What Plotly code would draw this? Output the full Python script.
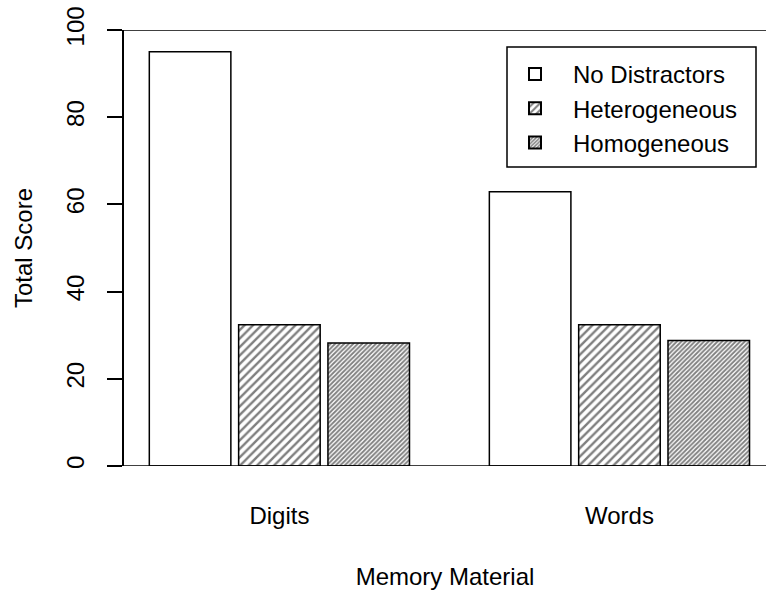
import plotly.graph_objects as go

materials = ['Digits', 'Words']
conditions = ['No Distractors', 'Heterogeneous', 'Homogeneous']
no_distractors = [95.0, 62.9]
heterogeneous = [32.4, 32.4]
homogeneous = [28.2, 28.8]
y_ticks = [0, 20, 40, 60, 80, 100]

FONT = 'Liberation Sans, Arial, Helvetica, sans-serif'
W, H = 766, 595
L, R, T, B = 124, 0, 30, 129
plot_w = W - L - R
plot_h = H - T - B

# fill patterns: none / sparse hatch / dense hatch
patterns = [dict(shape=''),
            dict(shape='/', size=6, solidity=0.4, fgcolor='black', bgcolor='white'),
            dict(shape='/', size=3.2, solidity=0.58, fgcolor='black', bgcolor='white')]

fig = go.Figure()
for name, vals, pat in zip(conditions, [no_distractors, heterogeneous, homogeneous], patterns):
    fig.add_bar(x=materials, y=vals, name=name,
                marker=dict(color='white', line=dict(color='black', width=1.5), pattern=pat))

# horizontal rules at 0 and 100 (run out to the right edge)
for yv in (0, 100):
    fig.add_shape(type='line', xref='paper', yref='y', x0=-15 / plot_w, x1=1.0,
                  y0=yv, y1=yv, line=dict(color='black', width=1.5))

# legend frame drawn by hand so it can be wider than plotly's own box
fig.add_shape(type='rect', xref='paper', yref='paper',
              x0=(507 - L) / plot_w, x1=(756 - L) / plot_w,
              y0=1 - (167 - T) / plot_h, y1=1 - (47 - T) / plot_h,
              line=dict(color='black', width=1.5), fillcolor='rgba(0,0,0,0)')

fig.update_layout(
    width=W, height=H,
    margin=dict(l=L, r=R, t=T, b=B),
    plot_bgcolor='white', paper_bgcolor='white',
    font=dict(family=FONT, size=24, color='black'),
    barmode='group', bargap=0.212, bargroupgap=0.087,
    showlegend=True,
    legend=dict(x=(497 - L) / plot_w, y=1 - (52 - T) / plot_h, xanchor='left', yanchor='top',
                bgcolor='rgba(0,0,0,0)', borderwidth=0, font=dict(size=24),
                itemwidth=66, itemsizing='constant'),
)
fig.update_xaxes(range=[-0.457, 1.431], showline=False, ticks='', showgrid=False,
                 zeroline=False, ticklabelstandoff=33,
                 title=dict(text='Memory Material', standoff=40, font=dict(size=24)))
fig.update_yaxes(range=[0, 100], tickvals=y_ticks, showline=True, linecolor='black', linewidth=1.5,
                 ticks='outside', ticklen=15, tickwidth=1.5, tickcolor='black',
                 tickangle=-90, showgrid=False, zeroline=False, ticklabelstandoff=14,
                 title=dict(text='Total Score', standoff=22, font=dict(size=24)))

fig.write_html('out.html', config={'displayModeBar': False},
               post_script="document.body.style.margin='0';")
